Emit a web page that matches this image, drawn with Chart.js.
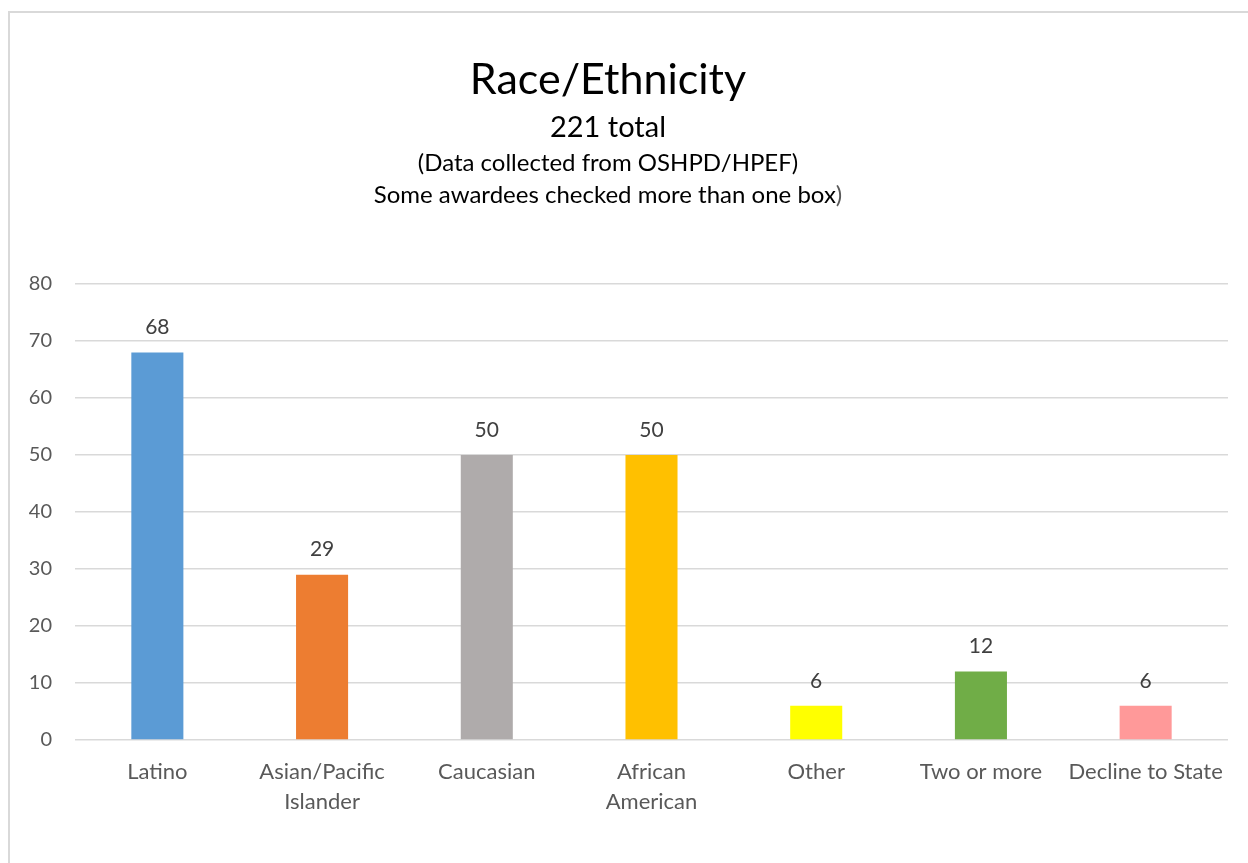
<!DOCTYPE html>
<html>
<head>
<meta charset="utf-8">
<script src="https://cdn.jsdelivr.net/npm/chart.js@4"></script>
<style>
  body { margin: 0; background: #fff; }
  #wrap { position: relative; width: 1248px; height: 863px; overflow: hidden; }
  #frame { position: absolute; left: 8px; top: 11px; width: 1300px; height: 900px;
           border-left: 2px solid #d9d9d9; border-top: 2px solid #d9d9d9; }
  canvas { position: absolute; left: 0; top: 0; }
</style>
</head>
<body>
<div id="wrap">
  <div id="frame"></div>
  <canvas id="chart" width="1248" height="863"></canvas>
</div>
<script>
const categories = ['Latino', ['Asian/Pacific', 'Islander'], 'Caucasian', ['African', 'American'], 'Other', 'Two or more', 'Decline to State'];
const counts = [68, 29, 50, 50, 6, 12, 6];
const barColors = ['#5B9BD5', '#ED7D31', '#AFABAB', '#FFC000', '#FFFF00', '#70AD47', '#FF9999'];
const yTicks = [0, 10, 20, 30, 40, 50, 60, 70, 80];
const headingLines = [
  { text: 'Race/Ethnicity', size: 43, y: 80 },
  { text: '221 total', size: 29, y: 128 },
  { text: '(Data collected from OSHPD/HPEF)', size: 24, y: 163 },
  { text: 'Some awardees checked more than one box', tail: ')', size: 24, y: 195 }
];

const FONT = 'Lato, "Open Sans", sans-serif';

// headings drawn at the top of the canvas
const headings = {
  id: 'headings',
  afterDraw(chart) {
    const ctx = chart.ctx;
    const cx = 608;
    ctx.save();
    ctx.textBaseline = 'middle';
    headingLines.forEach(l => {
      ctx.font = l.size + 'px ' + FONT;
      const full = l.text + (l.tail || '');
      const w = ctx.measureText(full).width;
      let x = cx - w / 2;
      ctx.textAlign = 'left';
      ctx.fillStyle = '#000';
      ctx.fillText(l.text, x, l.y);
      if (l.tail) {
        ctx.fillStyle = '#595959';
        ctx.fillText(l.tail, x + ctx.measureText(l.text).width, l.y);
      }
    });
    ctx.restore();
  }
};

// value labels above each bar
const valueLabels = {
  id: 'valueLabels',
  afterDatasetsDraw(chart) {
    const ctx = chart.ctx;
    const meta = chart.getDatasetMeta(0);
    ctx.save();
    ctx.font = '21px ' + FONT;
    ctx.fillStyle = '#404040';
    ctx.textAlign = 'center';
    ctx.textBaseline = 'middle';
    meta.data.forEach((bar, i) => {
      ctx.fillText(counts[i], bar.x, bar.y - 25);
    });
    ctx.restore();
  }
};

new Chart(document.getElementById('chart'), {
  type: 'bar',
  data: {
    labels: categories,
    datasets: [{
      data: counts,
      backgroundColor: barColors,
      borderWidth: 0
    }]
  },
  options: {
    responsive: false,
    animation: false,
    layout: { padding: { left: 0, right: 20, top: 284, bottom: 0 } },
    barPercentage: 0.316,
    categoryPercentage: 1,
    plugins: {
      legend: { display: false },
      tooltip: { enabled: false },
      title: { display: false }
    },
    scales: {
      x: {
        afterFit(scale) { scale.height = 123; },
        grid: { display: false },
        border: { display: false },
        ticks: {
          color: '#595959',
          font: { family: FONT, size: 22, lineHeight: 1.36 },
          padding: 9,
          maxRotation: 0,
          autoSkip: false
        }
      },
      y: {
        min: 0,
        max: 80,
        afterBuildTicks(scale) { scale.ticks = yTicks.map(v => ({ value: v })); },
        afterFit(scale) { scale.width = 75; },
        grid: { color: '#d9d9d9', lineWidth: 1.5, drawTicks: false },
        border: { display: false },
        ticks: {
          color: '#595959',
          font: { family: FONT, size: 20 },
          padding: 23
        }
      }
    }
  },
  plugins: [headings, valueLabels]
});
</script>
</body>
</html>
